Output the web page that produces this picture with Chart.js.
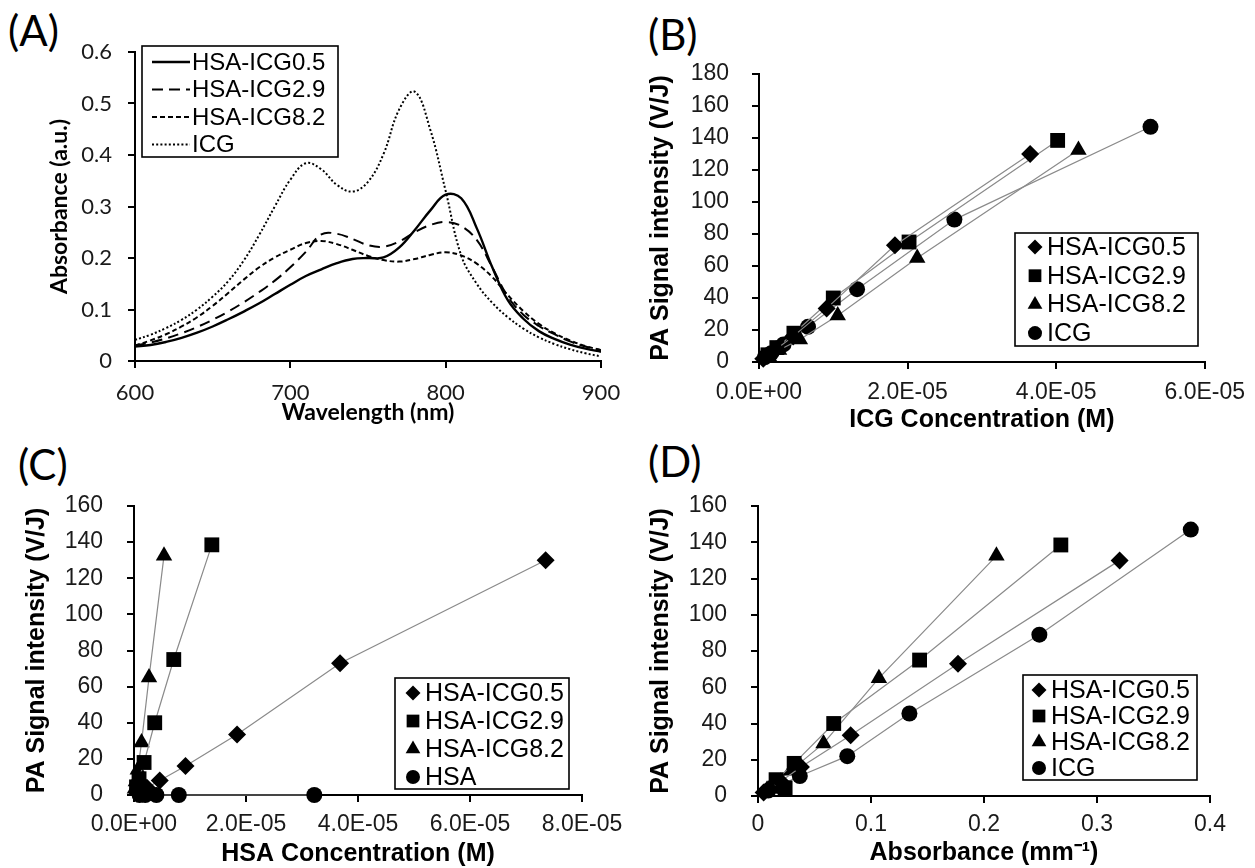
<!DOCTYPE html>
<html><head><meta charset="utf-8">
<script src="https://cdn.jsdelivr.net/npm/chart.js@4.4.1/dist/chart.umd.min.js"></script>
<style>
html,body{margin:0;padding:0;background:#fff;width:1255px;height:868px;overflow:hidden}
canvas{position:absolute;left:0;top:0}
.tag{position:absolute;font-family:Lato,"Open Sans",sans-serif;font-size:42px;color:#000;line-height:1}
</style></head><body>
<div class="tag" style="left:8px;top:9px">(A)</div>
<div class="tag" style="left:648px;top:13px">(B)</div>
<div class="tag" style="left:18px;top:443px">(C)</div>
<div class="tag" style="left:648px;top:440px">(D)</div>
<canvas id="cA" width="1255" height="868"></canvas>
<canvas id="cB" width="1255" height="868"></canvas>
<canvas id="cC" width="1255" height="868"></canvas>
<canvas id="cD" width="1255" height="868"></canvas>
<script>
// ---------- Panel A data ----------
const wavelength = [600,610,620,630,640,650,660,670,680,690,700,710,720,730,740,750,760,770,780,790,800,810,820,830,840,850,860,870,880,890,900];
const absHSAICG05 = [.028,.031,.037,.045,.055,.067,.081,.096,.112,.130,.148,.165,.178,.190,.198,.200,.201,.220,.254,.292,.323,.316,.258,.182,.118,.082,.058,.043,.032,.024,.018];
const absHSAICG29 = [.030,.036,.044,.054,.066,.080,.096,.114,.134,.156,.182,.212,.246,.247,.237,.225,.222,.232,.250,.264,.270,.262,.235,.182,.125,.090,.068,.052,.038,.028,.021];
const absHSAICG82 = [.030,.040,.052,.067,.085,.107,.132,.158,.182,.201,.216,.229,.233,.227,.216,.204,.196,.193,.198,.206,.211,.205,.189,.163,.128,.097,.072,.054,.040,.029,.021];
const absICG      = [.041,.051,.064,.080,.100,.125,.155,.195,.245,.300,.352,.384,.372,.342,.329,.348,.402,.488,.523,.450,.330,.205,.150,.113,.085,.063,.046,.033,.023,.015,.009];
const aXTicks = [600,700,800,900];
const aYTicks = [0,0.1,0.2,0.3,0.4,0.5,0.6];
const aYLabels = ['0','0.1','0.2','0.3','0.4','0.5','0.6'];

// ---------- Panels B-D data (dilution series) ----------
const paHSAICG05  = [130, 73, 33.5, 16, 8, 4, 2];
const icgHSAICG05 = [3.65e-5, 1.83e-5, 0.91e-5, 0.46e-5, 0.23e-5, 0.115e-5, 0.057e-5];
const hsaHSAICG05 = [7.35e-5, 3.68e-5, 1.84e-5, 0.92e-5, 0.46e-5, 0.23e-5, 0.115e-5];
const absHSAICG05mm = [0.320, 0.177, 0.082, 0.038, 0.020, 0.010, 0.005];

const paHSAICG29  = [138.5, 75, 40, 18, 9, 4.5];
const icgHSAICG29 = [4.02e-5, 2.02e-5, 1.0e-5, 0.47e-5, 0.24e-5, 0.12e-5];
const hsaHSAICG29 = [1.39e-5, 0.71e-5, 0.37e-5, 0.18e-5, 0.09e-5, 0.045e-5];
const absHSAICG29mm = [0.268, 0.143, 0.067, 0.032, 0.016, 0.024];

const paHSAICG82  = [132.5, 65, 29, 14, 7.5, 3.5];
const icgHSAICG82 = [4.3e-5, 2.13e-5, 1.06e-5, 0.55e-5, 0.27e-5, 0.135e-5];
const hsaHSAICG82 = [0.536e-5, 0.268e-5, 0.134e-5, 0.068e-5, 0.034e-5, 0.017e-5];
const absHSAICG82mm = [0.211, 0.107, 0.058, 0.029, 0.015, 0.008];

const paICG  = [147, 89, 45.5, 22, 11, 5.5, 3];
const icgICG = [5.27e-5, 2.63e-5, 1.32e-5, 0.66e-5, 0.33e-5, 0.165e-5, 0.08e-5];
const absICGmm = [0.383, 0.249, 0.134, 0.079, 0.037, 0.018, 0.009];

const paHSA  = [0, 0, 0, 0, 0];
const hsaHSA = [3.22e-5, 0.8e-5, 0.4e-5, 0.2e-5, 0.1e-5];

const bXTicks = [0, 2e-5, 4e-5, 6e-5];
const bXLabels = ['0.0E+00','2.0E-05','4.0E-05','6.0E-05'];
const bYTicks = [0,20,40,60,80,100,120,140,160,180];
const bYLabels = ['0','20','40','60','80','100','120','140','160','180'];
const cXTicks = [0, 2e-5, 4e-5, 6e-5, 8e-5];
const cXLabels = ['0.0E+00','2.0E-05','4.0E-05','6.0E-05','8.0E-05'];
const cdYTicks = [0,20,40,60,80,100,120,140,160];
const cdYLabels = ['0','20','40','60','80','100','120','140','160'];
const dXTicks = [0, 0.1, 0.2, 0.3, 0.4];
const dXLabels = ['0','0.1','0.2','0.3','0.4'];

// ---------- helpers ----------
const W = 1255, H = 868;
const pts = (xs, ys) => xs.map((x, i) => ({x, y: ys[i]}));

const boxLegend = {
  id: 'boxLegend',
  afterDatasetsDraw(chart, args, o) {
    const ctx = chart.ctx;
    ctx.save();
    ctx.setLineDash([]);
    ctx.fillStyle = '#fff';
    ctx.fillRect(o.x, o.y, o.w, o.h);
    ctx.lineWidth = 1.6; ctx.strokeStyle = '#000';
    ctx.strokeRect(o.x, o.y, o.w, o.h);
    ctx.font = o.font; ctx.textBaseline = 'middle'; ctx.textAlign = 'left';
    chart.data.datasets.forEach((ds, i) => {
      const cy = o.y + o.first + i * o.row;
      ctx.save();
      if (o.lines) {
        ctx.beginPath(); ctx.setLineDash(ds.borderDash || []);
        ctx.lineWidth = ds.borderWidth; ctx.strokeStyle = '#000';
        ctx.moveTo(o.x + o.s0, cy); ctx.lineTo(o.x + o.s1, cy); ctx.stroke();
      } else {
        ctx.fillStyle = '#000'; ctx.strokeStyle = '#000';
        Chart.helpers.drawPoint(ctx, {pointStyle: ds.pointStyle, radius: o.radius[ds.pointStyle], rotation: 0, borderWidth: 0}, o.x + o.sx, cy);
      }
      ctx.restore();
      ctx.fillStyle = '#000';
      ctx.fillText(ds.label, o.x + o.tx, cy + 1);
    });
    ctx.restore();
  }
};

function scales(a) {
  const grid = {drawOnChartArea: false, drawTicks: true, tickLength: 7, color: '#000', lineWidth: 2};
  const border = {display: true, color: '#000', width: 2};
  return {
    x: {
      type: 'linear', min: a.xMin, max: a.xMax,
      afterFit: s => { s.height = H - a.B; },
      afterBuildTicks: s => { s.ticks = a.xTicks.map(v => ({value: v})); },
      ticks: {font: a.tickFont, color: '#1a1a1a', padding: a.xPad, maxRotation: 0, autoSkip: false,
               callback: (v, i) => a.xLabels[i]},
      grid, border,
      title: {display: true, text: a.xTitle, font: a.titleFont, color: '#000', padding: {top: 0, bottom: a.xTitlePad}}
    },
    y: {
      type: 'linear', min: a.yMin, max: a.yMax,
      afterFit: s => { s.width = a.L; },
      afterBuildTicks: s => { s.ticks = a.yTicks.map(v => ({value: v})); },
      ticks: {font: a.tickFont, color: '#1a1a1a', padding: a.yPad, autoSkip: false,
               callback: (v, i) => a.yLabels[i]},
      grid, border,
      title: {display: true, text: a.yTitle, font: a.titleFont, color: '#000', padding: {top: a.yTitlePad, bottom: 0}}
    }
  };
}

function make(id, a, datasets, legendOpts) {
  return new Chart(document.getElementById(id), {
    type: 'scatter',
    data: {datasets},
    options: {
      responsive: false, animation: false, devicePixelRatio: 1, events: [],
      layout: {padding: {left: 0, top: a.T, right: W - a.R, bottom: 0}},
      scales: scales(a),
      plugins: {legend: {display: false}, tooltip: {enabled: false}, boxLegend: legendOpts}
    },
    plugins: [boxLegend]
  });
}

const markerR = {rectRot: 9, rect: 10.5, triangle: 9.5, circle: 8};
const legendR = {rectRot: 7.5, rect: 9, triangle: 8.5, circle: 7};
function series(label, xs, ys, style) {
  return {label, data: pts(xs, ys), showLine: true, borderColor: '#8a8a8a', borderWidth: 1.2,
          pointStyle: style, pointRadius: markerR[style], pointBackgroundColor: '#000',
          pointBorderColor: '#000', pointBorderWidth: 0, tension: 0, clip: false};
}
function curve(label, ys, dash, width) {
  return {label, data: pts(wavelength, ys), showLine: true, borderColor: '#000', borderWidth: width,
          borderDash: dash, pointRadius: 0, tension: 0.4, fill: false};
}

const arial = '"Liberation Sans", Arial, sans-serif';
const tickBD = {family: arial, size: 23};
const titleBD = {family: arial, size: 25, weight: 'bold', lineHeight: 1};

// Panel A
make('cA', {
  L: 135, R: 601, T: 52, B: 361, xMin: 600, xMax: 900, yMin: 0, yMax: 0.6,
  xTicks: aXTicks, xLabels: aXTicks.map(String), yTicks: aYTicks, yLabels: aYLabels,
  tickFont: {family: 'Lato', size: 22}, titleFont: {family: 'Lato', size: 23, weight: 'bold', lineHeight: 1},
  xPad: 11.5, yPad: 16, xTitle: 'Wavelength (nm)', yTitle: 'Absorbance (a.u.)', xTitlePad: 443.5, yTitlePad: 48.5
}, [
  curve('HSA-ICG0.5', absHSAICG05, [], 2.4),
  curve('HSA-ICG2.9', absHSAICG29, [11, 6], 2),
  curve('HSA-ICG8.2', absHSAICG82, [5, 3], 2),
  curve('ICG', absICG, [2, 2.2], 2)
], {x: 142, y: 46, w: 196, h: 111, first: 16, row: 27.5, lines: true, s0: 10, s1: 48, tx: 50,
    font: '24px ' + arial});

// Panel B
make('cB', {
  L: 759, R: 1209, T: 74, B: 362, xMin: 0, xMax: 6e-5, yMin: 0, yMax: 180,
  xTicks: bXTicks, xLabels: bXLabels, yTicks: bYTicks, yLabels: bYLabels,
  tickFont: tickBD, titleFont: titleBD, xPad: 10, yPad: 23,
  xTitle: 'ICG Concentration (M)', yTitle: 'PA Signal intensity (V/J)', xTitlePad: 435.5, yTitlePad: 648.5
}, [
  series('HSA-ICG0.5', icgHSAICG05, paHSAICG05, 'rectRot'),
  series('HSA-ICG2.9', icgHSAICG29, paHSAICG29, 'rect'),
  series('HSA-ICG8.2', icgHSAICG82, paHSAICG82, 'triangle'),
  series('ICG', icgICG, paICG, 'circle')
], {x: 1015, y: 233, w: 183, h: 113, first: 14, row: 28.7, sx: 20, tx: 32, radius: legendR,
    font: '25px ' + arial});

// Panel C
make('cC', {
  L: 134, R: 582, T: 506, B: 795, xMin: 0, xMax: 8e-5, yMin: 0, yMax: 160,
  xTicks: cXTicks, xLabels: cXLabels, yTicks: cdYTicks, yLabels: cdYLabels,
  tickFont: tickBD, titleFont: titleBD, xPad: 9, yPad: 24,
  xTitle: 'HSA Concentration (M)', yTitle: 'PA Signal intensity (V/J)', xTitlePad: 1.5, yTitlePad: 25
}, [
  series('HSA-ICG0.5', hsaHSAICG05, paHSAICG05, 'rectRot'),
  series('HSA-ICG2.9', hsaHSAICG29, paHSAICG29, 'rect'),
  series('HSA-ICG8.2', hsaHSAICG82, paHSAICG82, 'triangle'),
  series('HSA', hsaHSA, paHSA, 'circle')
], {x: 395, y: 678, w: 174, h: 111, first: 15, row: 28, sx: 18, tx: 30, radius: legendR,
    font: '25px ' + arial});

// Panel D
make('cD', {
  L: 758, R: 1210, T: 506, B: 796, xMin: 0, xMax: 0.4, yMin: 0, yMax: 160,
  xTicks: dXTicks, xLabels: dXLabels, yTicks: cdYTicks, yLabels: cdYLabels,
  tickFont: tickBD, titleFont: titleBD, xPad: 8, yPad: 24,
  xTitle: 'Absorbance (mm\u207B\u00B9)', yTitle: 'PA Signal intensity (V/J)', xTitlePad: 2.5, yTitlePad: 648.5
}, [
  series('HSA-ICG0.5', absHSAICG05mm, paHSAICG05, 'rectRot'),
  series('HSA-ICG2.9', absHSAICG29mm, paHSAICG29, 'rect'),
  series('HSA-ICG8.2', absHSAICG82mm, paHSAICG82, 'triangle'),
  series('ICG', absICGmm, paICG, 'circle')
], {x: 1023, y: 675, w: 174, h: 105, first: 15, row: 26, sx: 16, tx: 28, radius: legendR,
    font: '25px ' + arial});
</script>
</body></html>
